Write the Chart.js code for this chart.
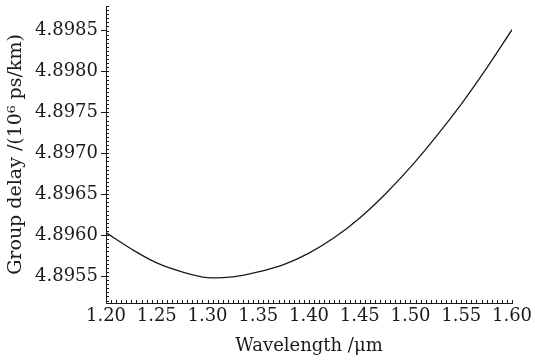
<!DOCTYPE html>
<html>
<head>
<meta charset="utf-8">
<script src="https://cdn.jsdelivr.net/npm/chart.js@4/dist/chart.umd.min.js"></script>
<style>
  html, body { margin: 0; padding: 0; background: #fff; }
  #wrap { width: 535px; height: 363px; }
</style>
</head>
<body>
<div id="wrap"><canvas id="delayChart"></canvas></div>
<script>
// wavelength (um) and group delay (10^6 ps/km)
const wavelength = [1.200, 1.225, 1.250, 1.275, 1.300, 1.325, 1.350, 1.375, 1.400,
  1.425, 1.450, 1.475, 1.500, 1.525, 1.550, 1.575, 1.600];
const groupDelay = [4.89603, 4.89583, 4.89566, 4.89555, 4.89548, 4.89549, 4.89555,
  4.89564, 4.89578, 4.89597, 4.89621, 4.89650, 4.89683, 4.89720, 4.89760, 4.89804, 4.89851];
const xTicks = [1.20, 1.25, 1.30, 1.35, 1.40, 1.45, 1.50, 1.55, 1.60];
const yTicks = [4.8955, 4.8960, 4.8965, 4.8970, 4.8975, 4.8980, 4.8985];

const FONT = "'DejaVu Serif', 'Liberation Serif', serif";
const INK = "#1a1a1a";

// small inward minor ticks along both axes
const minorTicks = {
  id: "minorTicks",
  afterDraw(chart) {
    const { ctx, chartArea, scales } = chart;
    ctx.save();
    ctx.strokeStyle = INK;
    ctx.lineWidth = 1;
    ctx.beginPath();
    for (let i = 0; i <= 80; i++) {
      const v = 1.2 + i * 0.005;
      const px = Math.round(scales.x.getPixelForValue(v)) + 0.5;
      ctx.moveTo(px, chartArea.bottom);
      ctx.lineTo(px, chartArea.bottom - 3);
    }
    for (let i = 0; i <= 80; i++) {
      const v = 4.8952 + i * 0.00005;
      if (v > scales.y.max) break;
      const py = Math.round(scales.y.getPixelForValue(v)) + 0.5;
      ctx.moveTo(chartArea.left, py);
      ctx.lineTo(chartArea.left + 3, py);
    }
    ctx.stroke();
    ctx.restore();
  },
};

const ctx = document.getElementById("delayChart");
new Chart(ctx, {
  type: "line",
  data: {
    datasets: [
      {
        data: wavelength.map((w, i) => ({ x: w, y: groupDelay[i] })),
        borderColor: INK,
        borderWidth: 1.3,
        pointRadius: 0,
        tension: 0.35,
        fill: false,
      },
    ],
  },
  options: {
    responsive: true,
    maintainAspectRatio: false,
    animation: false,
    devicePixelRatio: 1,
    layout: { padding: { top: 6, right: 23, left: 0, bottom: 0 } },
    plugins: {
      legend: { display: false },
      tooltip: { enabled: false },
    },
    scales: {
      x: {
        type: "linear",
        min: 1.2,
        max: 1.6,
        afterBuildTicks: (scale) => {
          scale.ticks = xTicks.map((v) => ({ value: v }));
        },
        afterFit: (scale) => {
          scale.height = 60;
          scale.paddingLeft = 0;
          scale.paddingRight = 0;
        },
        border: { display: true, color: INK, width: 1 },
        grid: { drawOnChartArea: false, drawTicks: true, tickLength: 0, color: INK },
        ticks: {
          color: INK,
          font: { family: FONT, size: 18 },
          padding: 3,
          maxRotation: 0,
          callback: (v) => v.toFixed(2),
        },
        title: {
          display: true,
          text: "Wavelength /μm",
          color: INK,
          font: { family: FONT, size: 18 },
          padding: { top: 0, bottom: 6 },
        },
      },
      y: {
        min: 4.89517,
        max: 4.8988,
        afterBuildTicks: (scale) => {
          scale.ticks = yTicks.map((v) => ({ value: v }));
        },
        afterFit: (scale) => {
          scale.width = 106;
          scale.paddingTop = 0;
          scale.paddingBottom = 0;
        },
        border: { display: true, color: INK, width: 1 },
        grid: { drawOnChartArea: false, drawTicks: true, tickLength: 5, color: INK },
        ticks: {
          color: INK,
          font: { family: FONT, size: 18 },
          padding: 3,
          callback: (v) => v.toFixed(4),
        },
        title: {
          display: true,
          text: "Group delay /(10⁶ ps/km)",
          color: INK,
          font: { family: FONT, size: 19 },
          padding: { top: 5, bottom: 0 },
        },
      },
    },
  },
  plugins: [minorTicks],
});
</script>
</body>
</html>
